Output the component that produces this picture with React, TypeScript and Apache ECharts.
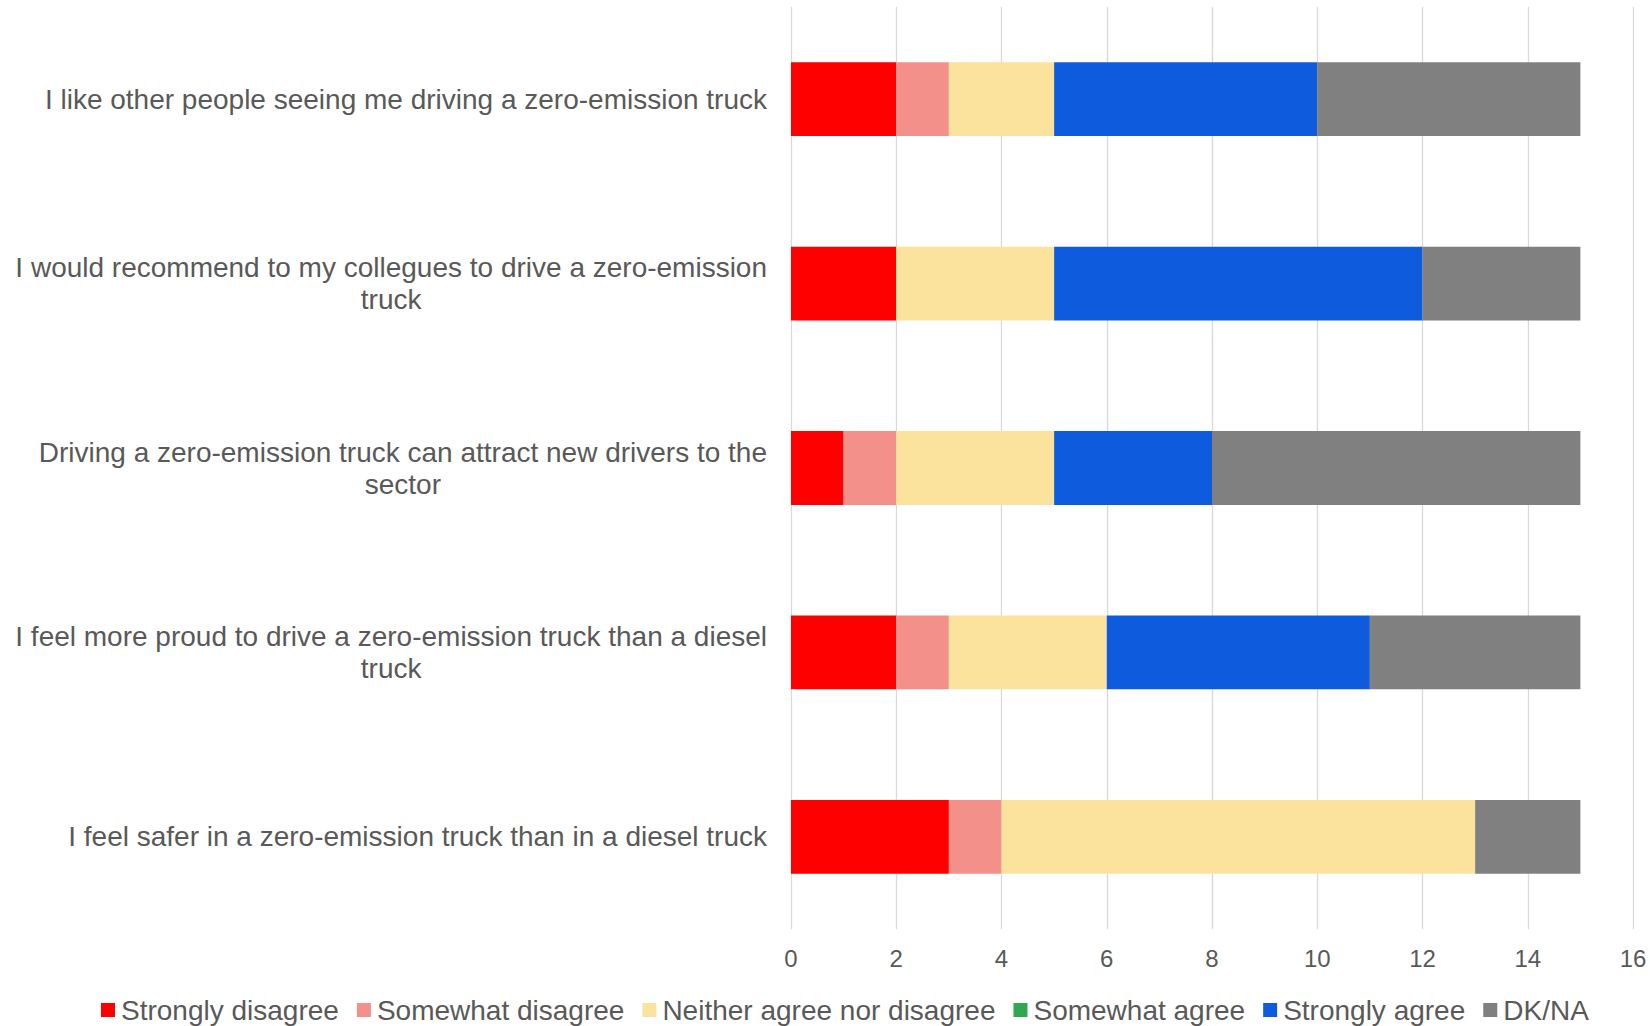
import React, { useEffect, useRef } from "react";
import * as echarts from "echarts";

// Survey statements (top to bottom)
const statements = [
  "I like other people seeing me driving a zero-emission truck",
  "I would recommend to my collegues to drive a zero-emission\ntruck",
  "Driving a zero-emission truck can attract new drivers to the\nsector",
  "I feel more proud to drive a zero-emission truck than a diesel\ntruck",
  "I feel safer in a zero-emission truck than in a diesel truck",
];

// Number of respondents per answer, in statement order
const stronglyDisagree = [2, 2, 1, 2, 3];
const somewhatDisagree = [1, 0, 1, 1, 1];
const neitherAgreeNorDisagree = [2, 3, 3, 3, 9];
const somewhatAgree = [0, 0, 0, 0, 0];
const stronglyAgree = [5, 7, 3, 5, 0];
const dkNa = [5, 3, 7, 4, 2];

const answerNames = [
  "Strongly disagree",
  "Somewhat disagree",
  "Neither agree nor disagree",
  "Somewhat agree",
  "Strongly agree",
  "DK/NA",
];
const answerValues = [
  stronglyDisagree,
  somewhatDisagree,
  neitherAgreeNorDisagree,
  somewhatAgree,
  stronglyAgree,
  dkNa,
];
const answerColors = ["#FF0000", "#F3908A", "#FBE39E", "#2FA84F", "#0E5CDD", "#808080"];

const FONT = "Liberation Sans";
const TEXT_COLOR = "#595959";

export default function App() {
  const ref = useRef<HTMLDivElement>(null);

  useEffect(() => {
    if (!ref.current) return;
    const chart = echarts.init(ref.current, null, { renderer: "svg" });
    chart.setOption({
      animation: false,
      backgroundColor: "#ffffff",
      textStyle: { fontFamily: FONT },
      grid: { left: 791, right: 17, top: 7, bottom: 97, containLabel: false },
      legend: {
        left: 96,
        top: 991,
        icon: "rect",
        itemWidth: 14,
        itemHeight: 14,
        itemGap: 18,
        textStyle: { fontSize: 28, color: TEXT_COLOR, fontFamily: FONT, padding: [0, 0, 0, 1] },
        data: answerNames,
      },
      xAxis: {
        type: "value",
        min: 0,
        max: 16,
        interval: 2,
        axisLine: { show: false },
        axisTick: { show: false },
        splitLine: { show: true, lineStyle: { color: "#D9D9D9", width: 1.3 } },
        axisLabel: { fontSize: 24, color: TEXT_COLOR, fontFamily: FONT, margin: 17 },
      },
      yAxis: {
        type: "category",
        inverse: true,
        data: statements,
        axisLine: { show: false },
        axisTick: { show: false },
        axisLabel: {
          margin: 24,
          align: "right",
          lineHeight: 32,
          formatter: (v: string) =>
            v
              .split("\n")
              .map((l) => `{c|${l}}`)
              .join("\n"),
          rich: {
            c: { fontSize: 28, color: TEXT_COLOR, fontFamily: FONT, align: "center", lineHeight: 32 },
          },
        },
      },
      series: answerNames.map((name, i) => ({
        name,
        type: "bar",
        stack: "total",
        barWidth: "40%",
        itemStyle: { color: answerColors[i] },
        data: answerValues[i],
      })),
    });
    return () => chart.dispose();
  }, []);

  return (
    <div
      ref={ref}
      style={{ position: "absolute", left: 0, top: 0, width: 1650, height: 1026 }}
    />
  );
}
